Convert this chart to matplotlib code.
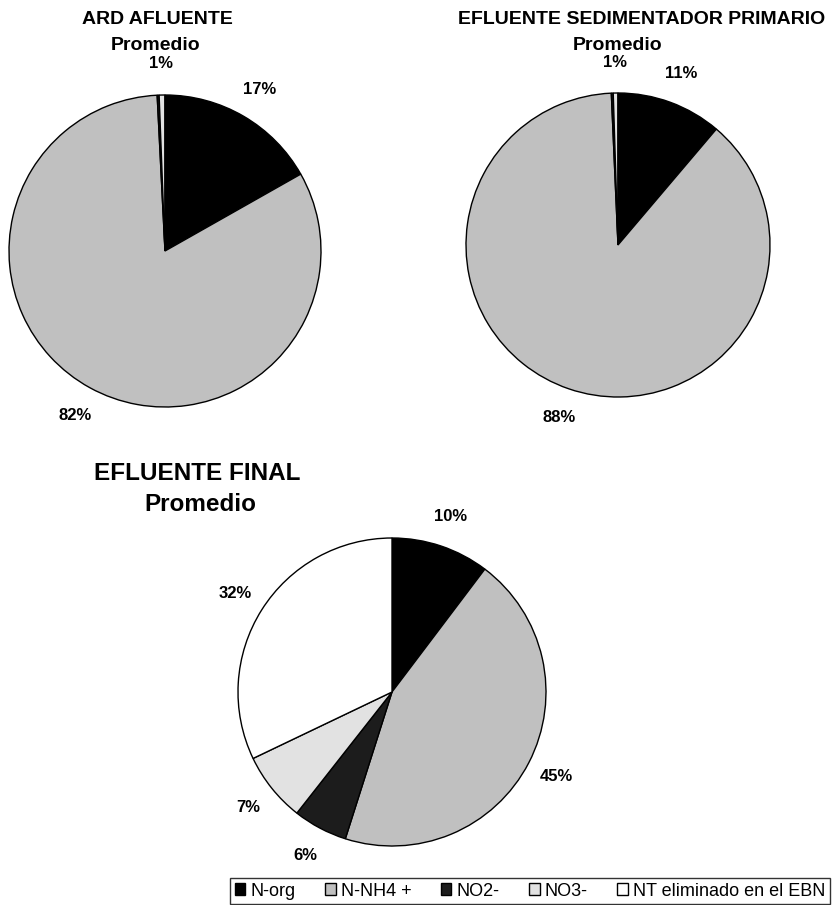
import matplotlib.pyplot as plt

plt.rcParams['font.family'] = ['Liberation Sans', 'DejaVu Sans']

categories = ['N-org', 'N-NH4 +', 'NO2-', 'NO3-', 'NT eliminado en el EBN']
colors = ['#000000', '#c0c0c0', '#1c1c1c', '#e2e2e2', '#ffffff']

ard_afluente = [16.8, 82.4, 0.2, 0.6, 0.0]
efl_primario = [11.2, 88.1, 0.2, 0.5, 0.0]
efl_final = [10.3, 44.6, 5.7, 7.3, 32.1]

W, H = 834, 905


def pie_axes(fig, cx, cy, r):
    # pixel center / radius -> figure fraction axes
    return fig.add_axes([(cx - r) / W, (H - cy - r) / H, 2 * r / W, 2 * r / H])


def fmt(p):
    if p < 0.5:
        return ''
    return '{:.0f}%'.format(p)


def draw_pie(ax, values, dist):
    wedges, _, autotexts = ax.pie(values, colors=colors, startangle=90, counterclock=False,
                                  autopct=fmt, pctdistance=dist, radius=1.0,
                                  wedgeprops=dict(edgecolor='black', linewidth=1.0))
    for t in autotexts:
        t.set_fontsize(12)
        t.set_fontweight('bold')
    ax.set_xlim(-1, 1)
    ax.set_ylim(-1, 1)
    ax.set_aspect('equal')
    return wedges


fig = plt.figure(figsize=(W / 100, H / 100), dpi=100)

ax1 = pie_axes(fig, 165, 251, 156)
draw_pie(ax1, ard_afluente, 1.2)
fig.text(157 / W, 1 - 19 / H, 'ARD AFLUENTE', ha='center', va='center', fontsize=14, fontweight='bold')
fig.text(156 / W, 1 - 45 / H, 'Promedio', ha='center', va='center', fontsize=14, fontweight='bold')

ax2 = pie_axes(fig, 618, 245, 152)
draw_pie(ax2, efl_primario, 1.2)
fig.text(642 / W, 1 - 19 / H, 'EFLUENTE SEDIMENTADOR PRIMARIO', ha='center', va='center', fontsize=14, fontweight='bold')
fig.text(618 / W, 1 - 45 / H, 'Promedio', ha='center', va='center', fontsize=14, fontweight='bold')

ax3 = pie_axes(fig, 392, 692, 154)
wedges = draw_pie(ax3, efl_final, 1.2)
fig.text(197 / W, 1 - 473 / H, 'EFLUENTE FINAL', ha='center', va='center', fontsize=17.5, fontweight='bold')
fig.text(200 / W, 1 - 504 / H, 'Promedio', ha='center', va='center', fontsize=17.5, fontweight='bold')

leg = fig.legend(wedges, categories, loc='center', bbox_to_anchor=(530 / W, 1 - 891 / H), ncol=5,
                 fontsize=13, frameon=True, fancybox=False, edgecolor='black',
                 handlelength=0.6, handleheight=0.6, handletextpad=0.3, columnspacing=1.6,
                 borderpad=0.25)
leg.get_frame().set_linewidth(1.0)

fig.savefig('out.png', dpi=100)
